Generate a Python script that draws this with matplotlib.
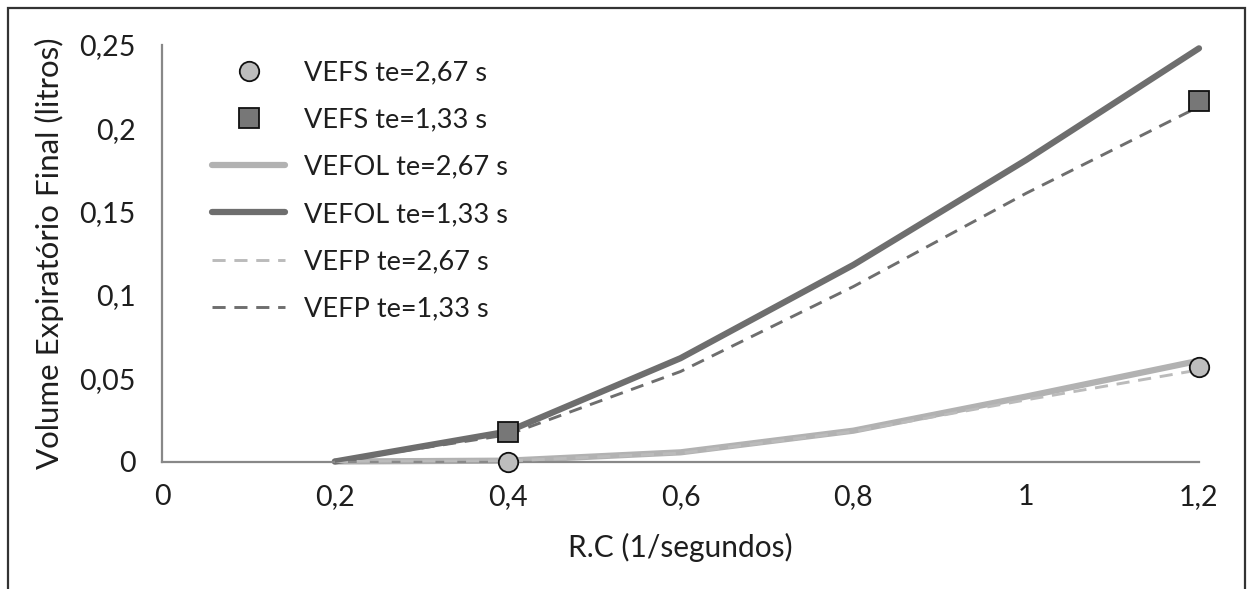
import matplotlib
matplotlib.use("Agg")
import matplotlib.pyplot as plt
from matplotlib.patches import Rectangle

plt.rcParams['font.family'] = ['Lato', 'DejaVu Sans']

# Data
rc = [0.2, 0.4, 0.6, 0.8, 1.0, 1.2]
vefol_267 = [0.0, 0.0005, 0.0055, 0.0185, 0.039, 0.0605]
vefol_133 = [0.0, 0.018, 0.062, 0.118, 0.181, 0.248]
vefp_267 = [0.0, 0.0003, 0.005, 0.018, 0.037, 0.055]
vefp_133 = [0.0, 0.016, 0.054, 0.105, 0.161, 0.213]
vefs_x = [0.4, 1.2]
vefs_267 = [0.0, 0.0565]
vefs_133 = [0.0178, 0.2165]

x_ticks = [0, 0.2, 0.4, 0.6, 0.8, 1.0, 1.2]
x_labels = ["0", "0,2", "0,4", "0,6", "0,8", "1", "1,2"]
y_ticks = [0, 0.05, 0.1, 0.15, 0.2, 0.25]
y_labels = ["0", "0,05", "0,1", "0,15", "0,2", "0,25"]

light = "#b2b2b2"
dark = "#6e6e6e"
txt = "#1e1e1e"

fig = plt.figure(figsize=(12.49, 5.89), dpi=100)
ax = fig.add_axes([162 / 1249, 1 - 461.5 / 589, (1199 - 162) / 1249, (461.5 - 45) / 589])

# figure border (bottom edge is cut off in the original)
fig.patches.append(Rectangle((8 / 1249, -0.05), (1245 - 8) / 1249, 1.05 - 8 / 589,
                             transform=fig.transFigure, fill=False,
                             edgecolor="#333333", linewidth=1.6))

h1, = ax.plot(vefs_x, vefs_267, linestyle="none", marker="o", markersize=14,
              markerfacecolor="#bdbdbd", markeredgecolor="#111111", markeredgewidth=1.3,
              zorder=5, label="VEFS te=2,67 s")
h2, = ax.plot(vefs_x, vefs_133, linestyle="none", marker="s", markersize=14,
              markerfacecolor="#777777", markeredgecolor="#111111", markeredgewidth=1.3,
              zorder=5, label="VEFS te=1,33 s")
h3, = ax.plot(rc, vefol_267, color=light, linewidth=4.5, solid_capstyle="round",
              zorder=2, label="VEFOL te=2,67 s")
h4, = ax.plot(rc, vefol_133, color=dark, linewidth=4.5, solid_capstyle="round",
              zorder=2, label="VEFOL te=1,33 s")
h5, = ax.plot(rc, vefp_267, color="#bbbbbb", linewidth=2.1, dashes=(4.5, 3),
              zorder=3, label="VEFP te=2,67 s")
h6, = ax.plot(rc, vefp_133, color=dark, linewidth=2.1, dashes=(4.5, 3),
              zorder=3, label="VEFP te=1,33 s")

ax.set_xlim(0, 1.2)
ax.set_ylim(0, 0.25)
ax.set_xticks(x_ticks)
ax.set_xticklabels(x_labels)
ax.set_yticks(y_ticks)
ax.set_yticklabels(y_labels)
ax.tick_params(axis="both", length=0, labelsize=20.5, colors=txt)
ax.tick_params(axis="x", pad=16)
ax.tick_params(axis="y", pad=19)

for s in ["top", "right"]:
    ax.spines[s].set_visible(False)
for s in ["left", "bottom"]:
    ax.spines[s].set_color("#888888")
    ax.spines[s].set_linewidth(1.6)
for ln in ax.lines:
    ln.set_clip_on(False)

ax.set_xlabel("R.C (1/segundos)", fontsize=21.5, color=txt, labelpad=17)
ax.set_ylabel("Volume Expiratório Final (litros)", fontsize=22.5, color=txt, labelpad=11)

ax.legend(handles=[h1, h2, h3, h4, h5, h6], loc="upper left",
          bbox_to_anchor=(0.025, 1.022), frameon=False, fontsize=19.5,
          handlelength=2.7, handletextpad=0.7, labelspacing=0.82,
          labelcolor=txt)

fig.savefig("out.png", dpi=100)
